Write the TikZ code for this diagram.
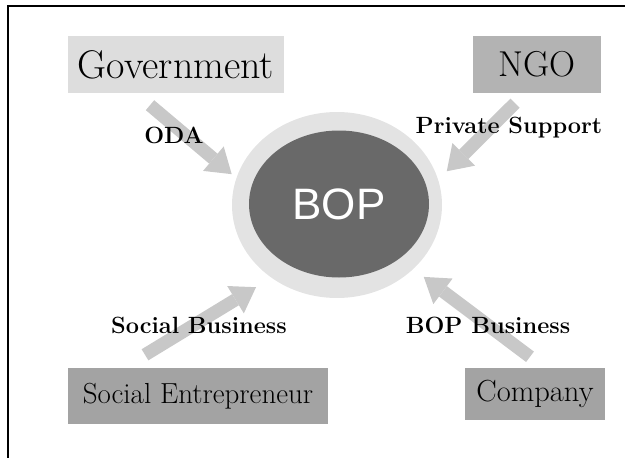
\documentclass[tikz,border=0pt]{standalone}
\usepackage{fontspec}
\usetikzlibrary{arrows.meta,shapes.geometric}
\newfontfamily\bopfont{Liberation Sans}

\definecolor{lightbox}{HTML}{DDDDDD}
\definecolor{midbox}{HTML}{B3B3B3}
\definecolor{darkbox}{HTML}{A3A3A3}
\definecolor{arrowgray}{HTML}{C8C8C8}
\definecolor{ringgray}{HTML}{E3E3E3}
\definecolor{coregray}{HTML}{696969}

\tikzset{
  actor/.style={rectangle,inner sep=0pt,text=black},
  flow/.style={draw=arrowgray,line width=13pt,
    -{Triangle[width=32pt,length=24pt,line width=0pt]}},
  lbl/.style={font=\fontsize{23.5}{27}\selectfont\bfseries,text=black}
}

\begin{document}
\begin{tikzpicture}[x=1pt,y=-1pt]
      \useasboundingbox (0,0) rectangle (625,458);
      \draw[line width=2pt] (625,6) -- (8,6) -- (8,458);

      \node[ellipse,fill=ringgray,minimum width=210pt,minimum height=186pt] (bop) at (337,205) {};
      \node[ellipse,fill=coregray,minimum width=180pt,minimum height=147pt,
            text=white,font=\bopfont\fontsize{44}{48}\selectfont] (core) at (339,204) {BOP};

      \node[actor,fill=lightbox,minimum width=216pt,minimum height=57pt,
            font=\fontsize{40}{44}\selectfont] (gov) at (176,64.5) {Government};
      \node[actor,fill=midbox,minimum width=128pt,minimum height=57pt,
            font=\fontsize{36}{40}\selectfont] (ngo) at (537,64.5) {NGO};
      \node[actor,fill=darkbox,minimum width=260pt,minimum height=56pt,
            font=\fontsize{29}{33}\selectfont] (soc) at (198,396) {Social Entrepreneur};
      \node[actor,fill=darkbox,minimum width=140pt,minimum height=52pt,
            font=\fontsize{30.5}{34}\selectfont] (comp) at (535,394) {Company};

      \draw[flow,shorten >=6pt] ([xshift=-26pt,yshift=-12pt]gov.south) -- (bop.165);
      \draw[flow,shorten >=12pt] ([xshift=-22pt,yshift=-10pt]ngo.south) -- (bop.14);
      \draw[flow,shorten >=18pt] ([xshift=-53pt,yshift=13pt]soc.north) -- (bop.228);
      \draw[flow,shorten >=13pt] ([xshift=-5pt,yshift=11pt]comp.north) -- (bop.320);

      \node[lbl] (oda) at (174,135) {ODA};
      \node[lbl] (priv) at (509,128) {Private Support};
      \node[lbl] (socbiz) at (199,325) {Social Business};
      \node[lbl] (bopbiz) at (488,325) {BOP Business};
\end{tikzpicture}
\end{document}
